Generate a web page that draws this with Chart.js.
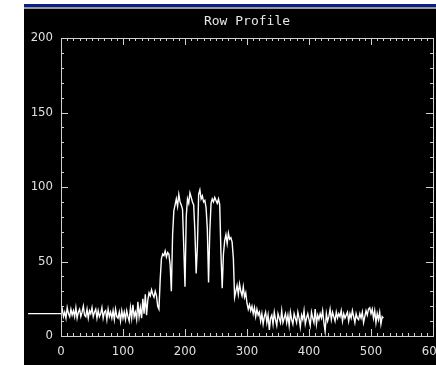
<!DOCTYPE html>
<html>
<head>
<meta charset="utf-8">
<script src="https://cdn.jsdelivr.net/npm/chart.js@4"></script>
<style>
  html, body { margin: 0; padding: 0; background: #fff; overflow: hidden; }
  #wrap { width: 436px; height: 365px; }
</style>
</head>
<body>
<div id="wrap"><canvas id="myChart" width="436" height="365"></canvas></div>
<script>
// row profile, one value every 2 pixels starting at column 0
var xStart = 0;
var xStep = 2;
var rowValues = [
  15,18,13,16,12,19,15,13,18,14,
  17,13,19,12,16,18,13,16,20,14,
  13,18,12,17,15,19,13,16,18,12,
  17,13,15,19,12,16,17,11,18,13,
  16,12,17,11,18,13,12,16,10,17,
  12,16,11,17,13,10,19,12,21,13,
  16,11,23,13,19,12,25,15,28,14,
  24,29,27,31,28,26,30,27,20,18,
  38,52,55,54,57,53,56,55,48,30,
  68,84,88,92,87,95,90,88,85,60,
  33,80,92,89,96,93,90,88,70,42,
  60,95,98,92,94,90,91,86,72,36,
  70,89,92,90,93,91,89,92,88,55,
  32,55,64,68,62,69,65,66,63,52,
  26,30,34,28,35,30,27,33,26,29,
  22,18,21,17,20,15,19,13,18,14,
  16,10,15,8,13,16,9,14,4,12,
  14,8,16,11,7,15,12,9,17,9,
  12,15,9,14,7,16,11,8,15,12,
  9,16,12,6,14,11,17,8,12,15,
  11,7,16,12,9,18,8,14,11,15,
  12,17,9,3,15,10,13,18,11,16,
  13,10,16,12,15,13,17,10,15,12,
  14,16,10,15,12,17,13,9,15,12,
  11,15,12,16,9,13,17,14,18,19,
  15,18,12,17,9,15,11,16,8,13,
  12
];
// short flat line left of the axis
var leadX = [-53, 0];
var leadY = [15, 15];

var xTicks = [0, 100, 200, 300, 400, 500, 600];
var yTicks = [0, 50, 100, 150, 200];

var profilePoints = [];
for (var i = 0; i < rowValues.length; i++) {
  profilePoints.push({ x: xStart + i * xStep, y: rowValues[i] });
}
var leadPoints = [];
for (var j = 0; j < leadX.length; j++) {
  leadPoints.push({ x: leadX[j], y: leadY[j] });
}

var axisColor = '#d0d0d0';
var labelColor = '#e0e0e0';

// window frame: white margin, blue title bar edge, black panel
var framePlugin = {
  id: 'frame',
  beforeDraw: function (chart) {
    var c = chart.ctx;
    c.save();
    c.fillStyle = '#ffffff';
    c.fillRect(0, 0, chart.width, chart.height);
    c.fillStyle = '#0c1e8c';
    c.fillRect(24, 4, chart.width - 24, 3);
    c.fillStyle = '#9a9a9a';
    c.fillRect(24, 7, chart.width - 24, 2);
    c.fillStyle = '#000000';
    c.fillRect(24, 9, chart.width - 24, chart.height - 9);
    c.restore();
  },
  afterDraw: function (chart) {
    var c = chart.ctx;
    var a = chart.chartArea;
    var xs = chart.scales.x;
    var ys = chart.scales.y;
    c.save();
    c.strokeStyle = axisColor;
    c.lineWidth = 1;
    c.strokeRect(Math.round(a.left) + 0.5, Math.round(a.top) + 0.5,
      Math.round(a.right - a.left), Math.round(a.bottom - a.top));
    c.beginPath();
    // inward ticks, minor every 10
    for (var v = xs.min; v <= xs.max; v += 10) {
      var px = Math.round(xs.getPixelForValue(v)) + 0.5;
      var len = (v % 100 === 0) ? 7 : 3;
      c.moveTo(px, a.bottom);
      c.lineTo(px, a.bottom - len);
      c.moveTo(px, a.top);
      c.lineTo(px, a.top + len);
    }
    for (var w = ys.min; w <= ys.max; w += 10) {
      var py = Math.round(ys.getPixelForValue(w)) + 0.5;
      var l2 = (w % 50 === 0) ? 7 : 3;
      c.moveTo(a.left, py);
      c.lineTo(a.left + l2, py);
      c.moveTo(a.right, py);
      c.lineTo(a.right - l2, py);
    }
    c.stroke();
    c.restore();
  }
};

const ctx = document.getElementById('myChart').getContext('2d');
const myChart = new Chart(ctx, {
  type: 'line',
  data: {
    datasets: [{
      data: profilePoints,
      borderColor: '#ffffff',
      borderWidth: 1.4,
      pointRadius: 0,
      tension: 0
    }, {
      data: leadPoints,
      borderColor: '#ffffff',
      borderWidth: 1.4,
      pointRadius: 0,
      clip: false
    }]
  },
  options: {
    responsive: false,
    animation: false,
    layout: { padding: { left: 0, right: 3, top: 0, bottom: 0 } },
    plugins: {
      legend: { display: false },
      tooltip: { enabled: false },
      title: {
        display: true,
        text: 'Row Profile',
        color: '#e8e8e8',
        fullSize: false,
        font: { family: 'DejaVu Sans Mono', size: 13, weight: 'normal' },
        padding: { top: 14, bottom: 8.4 }
      }
    },
    scales: {
      x: {
        type: 'linear',
        min: 0,
        max: 600,
        afterBuildTicks: function (s) {
          s.ticks = xTicks.map(function (t) { return { value: t }; });
        },
        afterFit: function (s) {
          s.height = 29;
          s.paddingLeft = 0;
          s.paddingRight = 0;
        },
        grid: { display: false, drawTicks: false },
        border: { display: false },
        ticks: {
          color: labelColor,
          padding: 8,
          maxRotation: 0,
          autoSkip: false,
          font: { family: 'DejaVu Sans Condensed', size: 13 }
        }
      },
      y: {
        min: 0,
        max: 200,
        afterBuildTicks: function (s) {
          s.ticks = yTicks.map(function (t) { return { value: t }; });
        },
        afterFit: function (s) {
          s.width = 61;
          s.paddingTop = 0;
          s.paddingBottom = 0;
        },
        grid: { display: false, drawTicks: false },
        border: { display: false },
        ticks: {
          color: labelColor,
          padding: 8,
          autoSkip: false,
          font: { family: 'DejaVu Sans Condensed', size: 13 }
        }
      }
    }
  },
  plugins: [framePlugin]
});
</script>
</body>
</html>
